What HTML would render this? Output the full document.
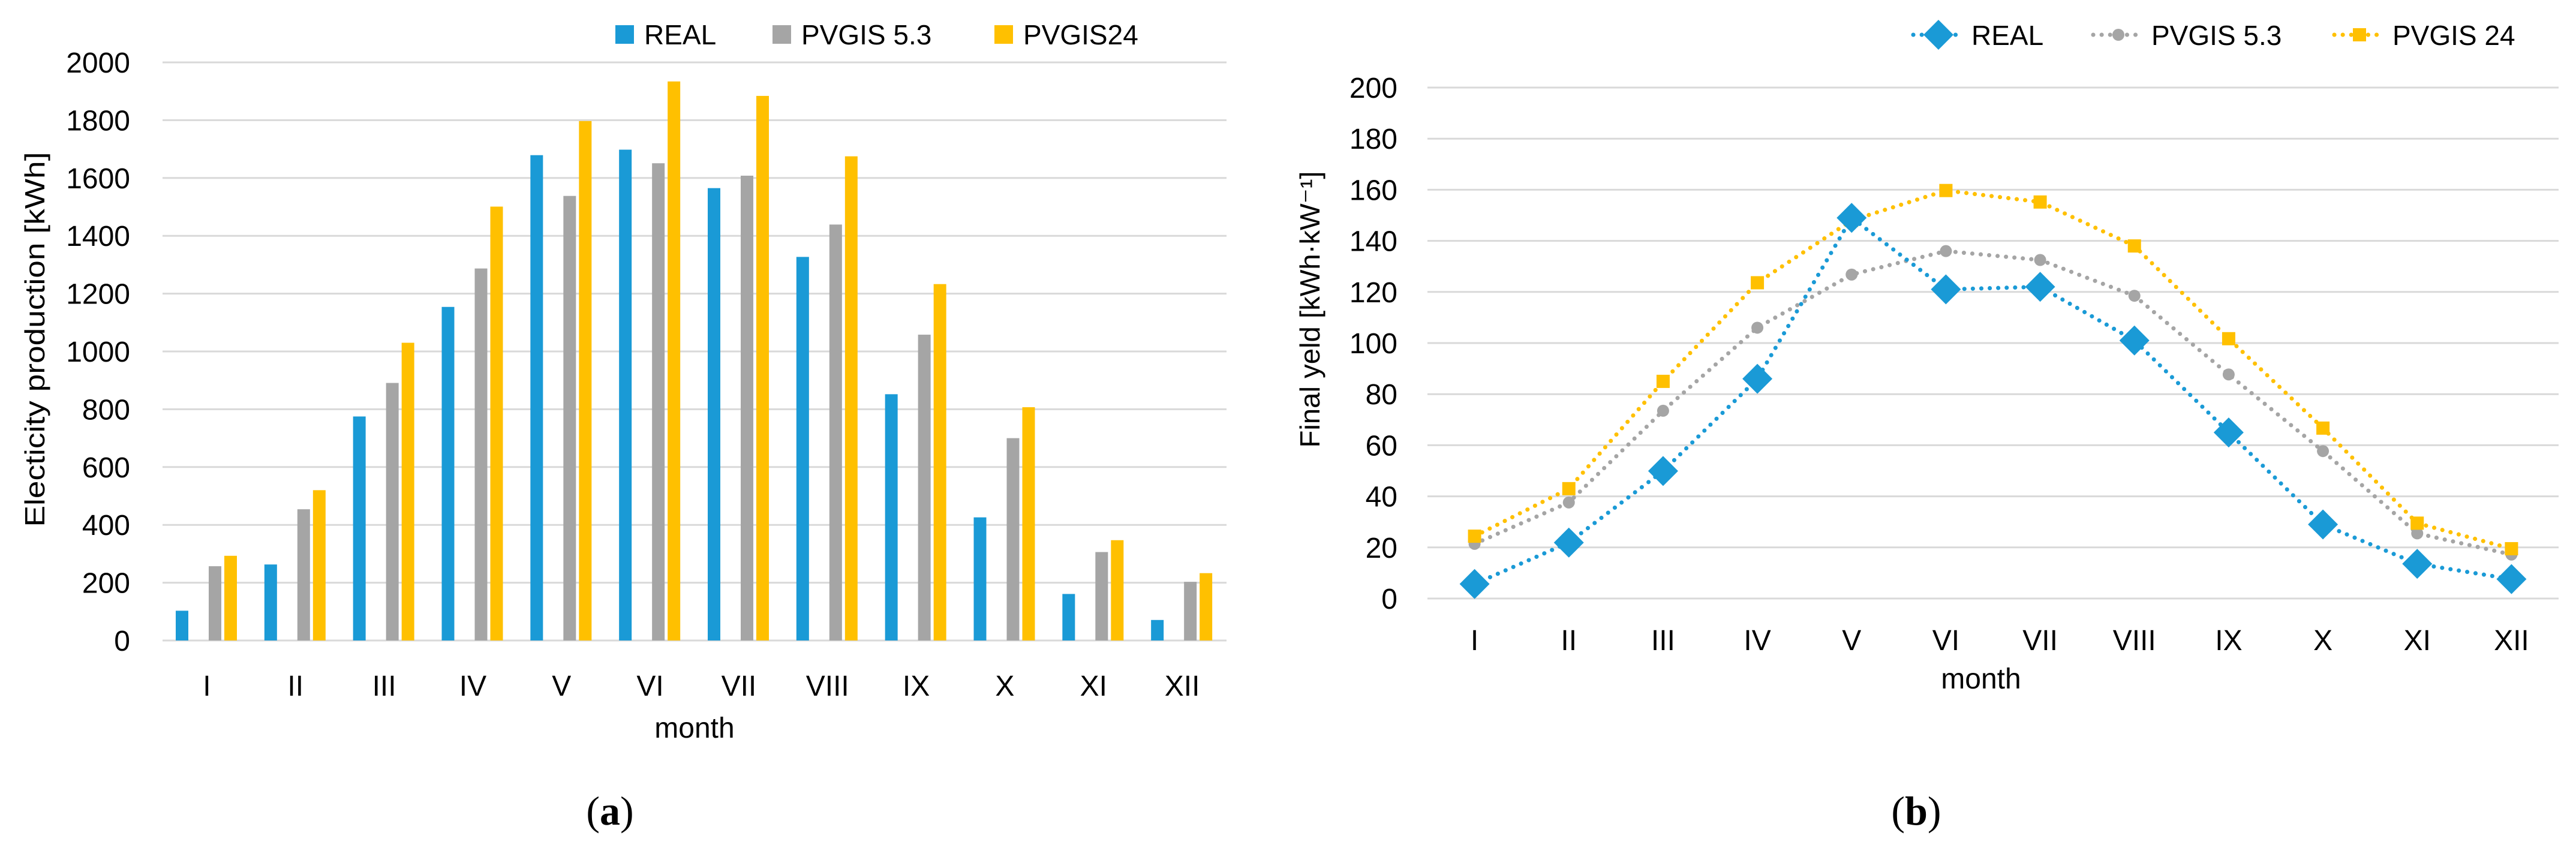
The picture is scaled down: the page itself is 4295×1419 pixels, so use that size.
<!DOCTYPE html>
<html><head><meta charset="utf-8"><style>
html,body{margin:0;padding:0;background:#fff;}
svg{display:block;font-family:"Liberation Sans",sans-serif;}
</style></head><body>
<svg id="fig" width="4295" height="1419" viewBox="0 0 4295 1419" xmlns="http://www.w3.org/2000/svg">
<rect width="4295" height="1419" fill="#fff"/>
<g id="chartA"></g>
<g id="chartB"></g>
<text x="1017" y="1375" font-family="Liberation Serif,serif" font-size="68" text-anchor="middle">(<tspan font-weight="bold">a</tspan>)</text>
<text x="3195" y="1375" font-family="Liberation Serif,serif" font-size="68" text-anchor="middle">(<tspan font-weight="bold">b</tspan>)</text>
</svg>
<script>
const months = ["I","II","III","IV","V","VI","VII","VIII","IX","X","XI","XII"];
const seriesNames = ["REAL","PVGIS 5.3","PVGIS24"];
const energyReal = [103,263,775,1154,1679,1698,1565,1327,852,426,161,71];
const energyPv53 = [257,454,891,1287,1538,1651,1608,1439,1058,700,306,203];
const energyPv24 = [293,520,1030,1501,1797,1934,1884,1675,1233,807,347,233];
const energyTicks = [0,200,400,600,800,1000,1200,1400,1600,1800,2000];
const lineNames = ["REAL","PVGIS 5.3","PVGIS 24"];
const yieldReal = [5.7,21.9,49.9,86,149,121,122,101,65,29,13.6,7.6];
const yieldPv53 = [21.4,37.6,73.5,106,126.8,136,132.5,118.5,87.7,57.7,25.5,17.2];
const yieldPv24 = [24.4,43,85,123.6,148,159.7,155.2,138,101.7,66.7,29.5,19.5];
const yieldTicks = [0,20,40,60,80,100,120,140,160,180,200];

const NS="http://www.w3.org/2000/svg";
const COL=["#1a9ad6","#a5a5a5","#ffc000"];
function mk(parent,tag,attrs,text){const e=document.createElementNS(NS,tag);for(const k in attrs)e.setAttribute(k,attrs[k]);if(text!==undefined)e.textContent=text;parent.appendChild(e);return e;}

// Chart A
(function(){
  const g=document.getElementById('chartA');
  const L=271,R=2045,Y0=1068,Ytop=104,max=2000;
  const cw=(R-L)/months.length;
  const y=v=>Y0-(v/max)*(Y0-Ytop);
  const x=i=>L+i*cw;
  energyTicks.forEach(t=>{
    const ln=mk(g,'line',{x1:L,x2:R,y1:y(t),y2:y(t),stroke:'#d9d9d9','stroke-width':3});
    
    
    const tx=mk(g,'text',{x:217,y:y(t)+17,'font-size':48,'text-anchor':'end',fill:'#000'},String(t));
    
    
  });
  const sets=[energyReal,energyPv53,energyPv24];
  const offs=[22,77,103];
  sets.forEach((s,si)=>{
    s.forEach((v,i)=>{
      const r=mk(g,'rect',{x:x(i)+offs[si],y:y(v),width:21,height:Y0-y(v),fill:COL[si]});
      
      
    });
  });
  months.forEach((m,i)=>{
    const t=mk(g,'text',{x:x(i)+cw/2,y:1160,'font-size':48,'text-anchor':'middle'},m);
    
    
  });
  const xt=mk(g,'text',{x:(L+R)/2,y:1230,'font-size':48,'text-anchor':'middle'},'month');
  
  
  const yt=mk(g,'text',{x:0,y:0,'font-size':46,'text-anchor':'middle',textLength:625,lengthAdjust:'spacingAndGlyphs',transform:'translate(74,566) rotate(-90)'},'Electicity production  [kWh]');
  
  
  const lx=[1026,1288,1658];
  seriesNames.forEach((n,i)=>{
    const lg=mk(g,'g',{});
    
    
    mk(lg,'rect',{x:lx[i],y:42,width:31,height:31,fill:COL[i]});
    mk(lg,'text',{x:lx[i]+48,y:74,'font-size':46},n);
  });
})();

// Chart B
(function(){
  const g=document.getElementById('chartB');
  const L=2380,R=4266,Y0=998,Ytop=146,max=200;
  const cw=(R-L)/months.length;
  const y=v=>Y0-(v/max)*(Y0-Ytop);
  const x=i=>L+(i+0.5)*cw;
  yieldTicks.forEach(t=>{
    const ln=mk(g,'line',{x1:L,x2:R,y1:y(t),y2:y(t),stroke:'#d9d9d9','stroke-width':3});
    
    
    const tx=mk(g,'text',{x:2330,y:y(t)+17,'font-size':48,'text-anchor':'end'},String(t));
    
    
  });
  const sets=[yieldPv53,yieldPv24,yieldReal];
  const idx=[1,2,0];
  function marker(parent,kind,cx,cy,col){
    if(kind===0) return mk(parent,'path',{d:`M${cx} ${cy-25}L${cx+25} ${cy}L${cx} ${cy+25}L${cx-25} ${cy}Z`,fill:col});
    if(kind===1) return mk(parent,'circle',{cx:cx,cy:cy,r:10,fill:col});
    return mk(parent,'rect',{x:cx-11,y:cy-11,width:22,height:22,fill:col});
  }
  sets.forEach((s,k)=>{
    const si=idx[k];
    const name=lineNames[si].toLowerCase().replace(/[^a-z0-9]+/g,'-');
    const pts=s.map((v,i)=>x(i)+','+y(v)).join(' ');
    const pl=mk(g,'polyline',{points:pts,fill:'none',stroke:COL[si],'stroke-width':7,'stroke-dasharray':'0.1 14','stroke-linecap':'round'});
    
    
    s.forEach((v,i)=>{
      const m=marker(g,si,x(i),y(v),COL[si]);
      
      
    });
  });
  months.forEach((m,i)=>{
    const t=mk(g,'text',{x:x(i),y:1084,'font-size':48,'text-anchor':'middle'},m);
    
    
  });
  const xt=mk(g,'text',{x:3303,y:1148,'font-size':48,'text-anchor':'middle'},'month');
  
  
  const yt=mk(g,'text',{x:0,y:0,'font-size':46,'text-anchor':'middle',textLength:461,lengthAdjust:'spacingAndGlyphs',transform:'translate(2200,516) rotate(-90)'},'Final yeld [kWh·kW⁻¹]');
  
  
  const lx=[3190,3490,3892];
  lineNames.forEach((n,i)=>{
    const lg=mk(g,'g',{});
    
    
    mk(lg,'line',{x1:lx[i],x2:lx[i]+83,y1:58,y2:58,stroke:COL[i],'stroke-width':7,'stroke-dasharray':'0.1 14','stroke-linecap':'round'});
    marker(lg,i,lx[i]+42,58,COL[i]);
    mk(lg,'text',{x:lx[i]+97,y:75,'font-size':46},n);
  });
})();
</script>
</body></html>
